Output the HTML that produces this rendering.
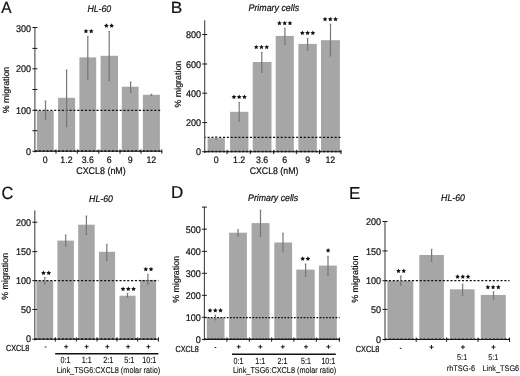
<!DOCTYPE html>
<html><head><meta charset="utf-8"><style>
html,body{margin:0;padding:0;background:#fff;}
svg{display:block;font-family:"Liberation Sans",sans-serif;filter:blur(0.35px);}
text{fill:#111;stroke:#111;stroke-width:0.2px;text-rendering:geometricPrecision;}
text.th{stroke-width:0.09px;}
</style></head><body>
<svg width="520" height="376" viewBox="0 0 520 376">
<rect width="520" height="376" fill="#fff"/>
<rect x="36.90" y="110.90" width="16.80" height="40.40" fill="#a6a6a6"/>
<rect x="58.10" y="97.80" width="17.00" height="53.50" fill="#a6a6a6"/>
<rect x="79.40" y="57.40" width="16.80" height="93.90" fill="#a6a6a6"/>
<rect x="100.60" y="55.80" width="17.40" height="95.50" fill="#a6a6a6"/>
<rect x="121.80" y="86.70" width="16.80" height="64.60" fill="#a6a6a6"/>
<rect x="142.90" y="94.80" width="17.00" height="56.50" fill="#a6a6a6"/>
<line x1="34.90" y1="110.30" x2="161.80" y2="110.30" stroke="#111" stroke-width="1.3" stroke-dasharray="2.1 1.75"/>
<line x1="34.90" y1="151.05" x2="161.80" y2="151.05" stroke="#111" stroke-width="1.4" stroke-dasharray="2.1 1.75"/>
<line x1="45.50" y1="101.00" x2="45.50" y2="119.50" stroke="#777777" stroke-width="1.2"/>
<line x1="44.60" y1="101.00" x2="46.40" y2="101.00" stroke="#777777" stroke-width="0.8"/>
<line x1="44.60" y1="119.50" x2="46.40" y2="119.50" stroke="#777777" stroke-width="0.8"/>
<line x1="66.60" y1="70.10" x2="66.60" y2="126.70" stroke="#777777" stroke-width="1.2"/>
<line x1="65.70" y1="70.10" x2="67.50" y2="70.10" stroke="#777777" stroke-width="0.8"/>
<line x1="65.70" y1="126.70" x2="67.50" y2="126.70" stroke="#777777" stroke-width="0.8"/>
<line x1="87.80" y1="36.40" x2="87.80" y2="79.20" stroke="#777777" stroke-width="1.2"/>
<line x1="86.90" y1="36.40" x2="88.70" y2="36.40" stroke="#777777" stroke-width="0.8"/>
<line x1="86.90" y1="79.20" x2="88.70" y2="79.20" stroke="#777777" stroke-width="0.8"/>
<line x1="109.20" y1="31.50" x2="109.20" y2="80.70" stroke="#777777" stroke-width="1.2"/>
<line x1="108.30" y1="31.50" x2="110.10" y2="31.50" stroke="#777777" stroke-width="0.8"/>
<line x1="108.30" y1="80.70" x2="110.10" y2="80.70" stroke="#777777" stroke-width="0.8"/>
<line x1="130.60" y1="82.00" x2="130.60" y2="92.40" stroke="#777777" stroke-width="1.2"/>
<line x1="129.70" y1="82.00" x2="131.50" y2="82.00" stroke="#777777" stroke-width="0.8"/>
<line x1="129.70" y1="92.40" x2="131.50" y2="92.40" stroke="#777777" stroke-width="0.8"/>
<line x1="151.40" y1="94.20" x2="151.40" y2="95.40" stroke="#777777" stroke-width="1.2"/>
<line x1="150.50" y1="94.20" x2="152.30" y2="94.20" stroke="#777777" stroke-width="0.8"/>
<line x1="150.50" y1="95.40" x2="152.30" y2="95.40" stroke="#777777" stroke-width="0.8"/>
<line x1="34.90" y1="27.50" x2="34.90" y2="152.50" stroke="#454545" stroke-width="1.1"/>
<line x1="34.90" y1="151.30" x2="162.30" y2="151.30" stroke="#1a1a1a" stroke-width="1.1"/>
<line x1="32.40" y1="27.50" x2="37.40" y2="27.50" stroke="#1a1a1a" stroke-width="1.0"/>
<line x1="32.40" y1="48.40" x2="37.40" y2="48.40" stroke="#1a1a1a" stroke-width="1.0"/>
<line x1="32.40" y1="68.80" x2="37.40" y2="68.80" stroke="#1a1a1a" stroke-width="1.0"/>
<line x1="32.40" y1="89.50" x2="37.40" y2="89.50" stroke="#1a1a1a" stroke-width="1.0"/>
<line x1="32.40" y1="110.30" x2="37.40" y2="110.30" stroke="#1a1a1a" stroke-width="1.0"/>
<line x1="32.40" y1="130.70" x2="37.40" y2="130.70" stroke="#1a1a1a" stroke-width="1.0"/>
<line x1="32.40" y1="151.30" x2="37.40" y2="151.30" stroke="#1a1a1a" stroke-width="1.0"/>
<line x1="56.00" y1="149.40" x2="56.00" y2="153.70" stroke="#1a1a1a" stroke-width="1.0"/>
<line x1="77.30" y1="149.40" x2="77.30" y2="153.70" stroke="#1a1a1a" stroke-width="1.0"/>
<line x1="98.80" y1="149.40" x2="98.80" y2="153.70" stroke="#1a1a1a" stroke-width="1.0"/>
<line x1="120.00" y1="149.40" x2="120.00" y2="153.70" stroke="#1a1a1a" stroke-width="1.0"/>
<line x1="141.00" y1="149.40" x2="141.00" y2="153.70" stroke="#1a1a1a" stroke-width="1.0"/>
<line x1="161.80" y1="149.40" x2="161.80" y2="153.70" stroke="#1a1a1a" stroke-width="1.0"/>
<polygon points="85.97,28.69 86.68,30.22 88.35,30.42 87.12,31.56 87.44,33.21 85.97,32.39 84.51,33.21 84.83,31.56 83.60,30.42 85.27,30.22" fill="#111"/>
<polygon points="91.22,28.69 91.93,30.22 93.60,30.42 92.37,31.56 92.69,33.21 91.22,32.39 89.76,33.21 90.08,31.56 88.85,30.42 90.52,30.22" fill="#111"/>
<polygon points="106.38,23.34 107.08,24.87 108.75,25.07 107.52,26.21 107.84,27.86 106.38,27.04 104.91,27.86 105.23,26.21 104.00,25.07 105.67,24.87" fill="#111"/>
<polygon points="111.62,23.34 112.33,24.87 114.00,25.07 112.77,26.21 113.09,27.86 111.62,27.04 110.16,27.86 110.48,26.21 109.25,25.07 110.92,24.87" fill="#111"/>
<rect x="207.60" y="138.20" width="17.20" height="13.50" fill="#a6a6a6"/>
<rect x="230.10" y="111.80" width="18.30" height="39.90" fill="#a6a6a6"/>
<rect x="252.70" y="62.00" width="18.80" height="89.70" fill="#a6a6a6"/>
<rect x="275.70" y="35.90" width="18.10" height="115.80" fill="#a6a6a6"/>
<rect x="298.40" y="43.90" width="18.40" height="107.80" fill="#a6a6a6"/>
<rect x="321.00" y="40.20" width="18.90" height="111.50" fill="#a6a6a6"/>
<line x1="204.70" y1="137.30" x2="341.00" y2="137.30" stroke="#111" stroke-width="1.3" stroke-dasharray="2.1 1.75" stroke-dashoffset="1.0"/>
<line x1="204.70" y1="151.45" x2="341.00" y2="151.45" stroke="#111" stroke-width="1.4" stroke-dasharray="2.1 1.75" stroke-dashoffset="1.0"/>
<line x1="216.20" y1="136.50" x2="216.20" y2="139.50" stroke="#777777" stroke-width="1.2"/>
<line x1="215.30" y1="136.50" x2="217.10" y2="136.50" stroke="#777777" stroke-width="0.8"/>
<line x1="215.30" y1="139.50" x2="217.10" y2="139.50" stroke="#777777" stroke-width="0.8"/>
<line x1="239.20" y1="102.30" x2="239.20" y2="121.20" stroke="#777777" stroke-width="1.2"/>
<line x1="238.30" y1="102.30" x2="240.10" y2="102.30" stroke="#777777" stroke-width="0.8"/>
<line x1="238.30" y1="121.20" x2="240.10" y2="121.20" stroke="#777777" stroke-width="0.8"/>
<line x1="261.80" y1="52.40" x2="261.80" y2="72.50" stroke="#777777" stroke-width="1.2"/>
<line x1="260.90" y1="52.40" x2="262.70" y2="52.40" stroke="#777777" stroke-width="0.8"/>
<line x1="260.90" y1="72.50" x2="262.70" y2="72.50" stroke="#777777" stroke-width="0.8"/>
<line x1="284.90" y1="28.20" x2="284.90" y2="44.40" stroke="#777777" stroke-width="1.2"/>
<line x1="284.00" y1="28.20" x2="285.80" y2="28.20" stroke="#777777" stroke-width="0.8"/>
<line x1="284.00" y1="44.40" x2="285.80" y2="44.40" stroke="#777777" stroke-width="0.8"/>
<line x1="307.60" y1="38.40" x2="307.60" y2="50.20" stroke="#777777" stroke-width="1.2"/>
<line x1="306.70" y1="38.40" x2="308.50" y2="38.40" stroke="#777777" stroke-width="0.8"/>
<line x1="306.70" y1="50.20" x2="308.50" y2="50.20" stroke="#777777" stroke-width="0.8"/>
<line x1="330.50" y1="24.20" x2="330.50" y2="56.10" stroke="#777777" stroke-width="1.2"/>
<line x1="329.60" y1="24.20" x2="331.40" y2="24.20" stroke="#777777" stroke-width="0.8"/>
<line x1="329.60" y1="56.10" x2="331.40" y2="56.10" stroke="#777777" stroke-width="0.8"/>
<line x1="204.70" y1="20.30" x2="204.70" y2="152.90" stroke="#454545" stroke-width="1.1"/>
<line x1="204.70" y1="151.70" x2="341.50" y2="151.70" stroke="#1a1a1a" stroke-width="1.1"/>
<line x1="202.20" y1="34.50" x2="207.20" y2="34.50" stroke="#1a1a1a" stroke-width="1.0"/>
<line x1="202.20" y1="64.00" x2="207.20" y2="64.00" stroke="#1a1a1a" stroke-width="1.0"/>
<line x1="202.20" y1="93.20" x2="207.20" y2="93.20" stroke="#1a1a1a" stroke-width="1.0"/>
<line x1="202.20" y1="122.60" x2="207.20" y2="122.60" stroke="#1a1a1a" stroke-width="1.0"/>
<line x1="202.20" y1="151.70" x2="207.20" y2="151.70" stroke="#1a1a1a" stroke-width="1.0"/>
<line x1="227.00" y1="149.80" x2="227.00" y2="154.10" stroke="#1a1a1a" stroke-width="1.0"/>
<line x1="250.30" y1="149.80" x2="250.30" y2="154.10" stroke="#1a1a1a" stroke-width="1.0"/>
<line x1="273.70" y1="149.80" x2="273.70" y2="154.10" stroke="#1a1a1a" stroke-width="1.0"/>
<line x1="296.30" y1="149.80" x2="296.30" y2="154.10" stroke="#1a1a1a" stroke-width="1.0"/>
<line x1="319.50" y1="149.80" x2="319.50" y2="154.10" stroke="#1a1a1a" stroke-width="1.0"/>
<line x1="341.00" y1="149.80" x2="341.00" y2="154.10" stroke="#1a1a1a" stroke-width="1.0"/>
<polygon points="233.95,94.54 234.66,96.07 236.33,96.27 235.09,97.41 235.42,99.06 233.95,98.24 232.48,99.06 232.81,97.41 231.57,96.27 233.24,96.07" fill="#111"/>
<polygon points="239.20,94.54 239.91,96.07 241.58,96.27 240.34,97.41 240.67,99.06 239.20,98.24 237.73,99.06 238.06,97.41 236.82,96.27 238.49,96.07" fill="#111"/>
<polygon points="244.45,94.54 245.16,96.07 246.83,96.27 245.59,97.41 245.92,99.06 244.45,98.24 242.98,99.06 243.31,97.41 242.07,96.27 243.74,96.07" fill="#111"/>
<polygon points="256.25,44.64 256.96,46.17 258.63,46.37 257.39,47.51 257.72,49.16 256.25,48.34 254.78,49.16 255.11,47.51 253.87,46.37 255.54,46.17" fill="#111"/>
<polygon points="261.50,44.64 262.21,46.17 263.88,46.37 262.64,47.51 262.97,49.16 261.50,48.34 260.03,49.16 260.36,47.51 259.12,46.37 260.79,46.17" fill="#111"/>
<polygon points="266.75,44.64 267.46,46.17 269.13,46.37 267.89,47.51 268.22,49.16 266.75,48.34 265.28,49.16 265.61,47.51 264.37,46.37 266.04,46.17" fill="#111"/>
<polygon points="279.45,20.74 280.16,22.27 281.83,22.47 280.59,23.61 280.92,25.26 279.45,24.44 277.98,25.26 278.31,23.61 277.07,22.47 278.74,22.27" fill="#111"/>
<polygon points="284.70,20.74 285.41,22.27 287.08,22.47 285.84,23.61 286.17,25.26 284.70,24.44 283.23,25.26 283.56,23.61 282.32,22.47 283.99,22.27" fill="#111"/>
<polygon points="289.95,20.74 290.66,22.27 292.33,22.47 291.09,23.61 291.42,25.26 289.95,24.44 288.48,25.26 288.81,23.61 287.57,22.47 289.24,22.27" fill="#111"/>
<polygon points="302.35,30.54 303.06,32.07 304.73,32.27 303.49,33.41 303.82,35.06 302.35,34.24 300.88,35.06 301.21,33.41 299.97,32.27 301.64,32.07" fill="#111"/>
<polygon points="307.60,30.54 308.31,32.07 309.98,32.27 308.74,33.41 309.07,35.06 307.60,34.24 306.13,35.06 306.46,33.41 305.22,32.27 306.89,32.07" fill="#111"/>
<polygon points="312.85,30.54 313.56,32.07 315.23,32.27 313.99,33.41 314.32,35.06 312.85,34.24 311.38,35.06 311.71,33.41 310.47,32.27 312.14,32.07" fill="#111"/>
<polygon points="325.05,16.84 325.76,18.37 327.43,18.57 326.19,19.71 326.52,21.36 325.05,20.54 323.58,21.36 323.91,19.71 322.67,18.57 324.34,18.37" fill="#111"/>
<polygon points="330.30,16.84 331.01,18.37 332.68,18.57 331.44,19.71 331.77,21.36 330.30,20.54 328.83,21.36 329.16,19.71 327.92,18.57 329.59,18.37" fill="#111"/>
<polygon points="335.55,16.84 336.26,18.37 337.93,18.57 336.69,19.71 337.02,21.36 335.55,20.54 334.08,21.36 334.41,19.71 333.17,18.57 334.84,18.37" fill="#111"/>
<rect x="36.40" y="280.60" width="16.80" height="58.60" fill="#a6a6a6"/>
<rect x="57.40" y="240.60" width="16.50" height="98.60" fill="#a6a6a6"/>
<rect x="78.20" y="224.70" width="16.50" height="114.50" fill="#a6a6a6"/>
<rect x="98.95" y="251.80" width="16.15" height="87.40" fill="#a6a6a6"/>
<rect x="119.50" y="295.70" width="16.10" height="43.50" fill="#a6a6a6"/>
<rect x="140.00" y="279.90" width="16.10" height="59.30" fill="#a6a6a6"/>
<line x1="34.80" y1="280.60" x2="158.40" y2="280.60" stroke="#111" stroke-width="1.3" stroke-dasharray="2.1 1.75"/>
<line x1="34.80" y1="338.95" x2="158.40" y2="338.95" stroke="#111" stroke-width="1.4" stroke-dasharray="2.1 1.75"/>
<line x1="44.80" y1="277.50" x2="44.80" y2="284.00" stroke="#777777" stroke-width="1.2"/>
<line x1="43.90" y1="277.50" x2="45.70" y2="277.50" stroke="#777777" stroke-width="0.8"/>
<line x1="43.90" y1="284.00" x2="45.70" y2="284.00" stroke="#777777" stroke-width="0.8"/>
<line x1="65.70" y1="235.10" x2="65.70" y2="246.00" stroke="#777777" stroke-width="1.2"/>
<line x1="64.80" y1="235.10" x2="66.60" y2="235.10" stroke="#777777" stroke-width="0.8"/>
<line x1="64.80" y1="246.00" x2="66.60" y2="246.00" stroke="#777777" stroke-width="0.8"/>
<line x1="86.40" y1="216.00" x2="86.40" y2="234.50" stroke="#777777" stroke-width="1.2"/>
<line x1="85.50" y1="216.00" x2="87.30" y2="216.00" stroke="#777777" stroke-width="0.8"/>
<line x1="85.50" y1="234.50" x2="87.30" y2="234.50" stroke="#777777" stroke-width="0.8"/>
<line x1="106.80" y1="244.40" x2="106.80" y2="260.30" stroke="#777777" stroke-width="1.2"/>
<line x1="105.90" y1="244.40" x2="107.70" y2="244.40" stroke="#777777" stroke-width="0.8"/>
<line x1="105.90" y1="260.30" x2="107.70" y2="260.30" stroke="#777777" stroke-width="0.8"/>
<line x1="127.50" y1="293.30" x2="127.50" y2="297.50" stroke="#777777" stroke-width="1.2"/>
<line x1="126.60" y1="293.30" x2="128.40" y2="293.30" stroke="#777777" stroke-width="0.8"/>
<line x1="126.60" y1="297.50" x2="128.40" y2="297.50" stroke="#777777" stroke-width="0.8"/>
<line x1="147.90" y1="274.40" x2="147.90" y2="284.20" stroke="#777777" stroke-width="1.2"/>
<line x1="147.00" y1="274.40" x2="148.80" y2="274.40" stroke="#777777" stroke-width="0.8"/>
<line x1="147.00" y1="284.20" x2="148.80" y2="284.20" stroke="#777777" stroke-width="0.8"/>
<line x1="34.80" y1="210.60" x2="34.80" y2="340.40" stroke="#454545" stroke-width="1.1"/>
<line x1="34.80" y1="339.20" x2="158.90" y2="339.20" stroke="#1a1a1a" stroke-width="1.1"/>
<line x1="32.30" y1="222.20" x2="37.30" y2="222.20" stroke="#1a1a1a" stroke-width="1.0"/>
<line x1="32.30" y1="251.60" x2="37.30" y2="251.60" stroke="#1a1a1a" stroke-width="1.0"/>
<line x1="32.30" y1="280.60" x2="37.30" y2="280.60" stroke="#1a1a1a" stroke-width="1.0"/>
<line x1="32.30" y1="309.50" x2="37.30" y2="309.50" stroke="#1a1a1a" stroke-width="1.0"/>
<line x1="32.30" y1="339.20" x2="37.30" y2="339.20" stroke="#1a1a1a" stroke-width="1.0"/>
<line x1="55.30" y1="337.30" x2="55.30" y2="341.60" stroke="#1a1a1a" stroke-width="1.0"/>
<line x1="76.30" y1="337.30" x2="76.30" y2="341.60" stroke="#1a1a1a" stroke-width="1.0"/>
<line x1="97.00" y1="337.30" x2="97.00" y2="341.60" stroke="#1a1a1a" stroke-width="1.0"/>
<line x1="117.00" y1="337.30" x2="117.00" y2="341.60" stroke="#1a1a1a" stroke-width="1.0"/>
<line x1="137.70" y1="337.30" x2="137.70" y2="341.60" stroke="#1a1a1a" stroke-width="1.0"/>
<line x1="158.40" y1="337.30" x2="158.40" y2="341.60" stroke="#1a1a1a" stroke-width="1.0"/>
<polygon points="43.48,270.54 44.18,272.07 45.85,272.27 44.62,273.41 44.94,275.06 43.48,274.24 42.01,275.06 42.33,273.41 41.10,272.27 42.77,272.07" fill="#111"/>
<polygon points="48.73,270.54 49.43,272.07 51.10,272.27 49.87,273.41 50.19,275.06 48.73,274.24 47.26,275.06 47.58,273.41 46.35,272.27 48.02,272.07" fill="#111"/>
<polygon points="123.05,286.54 123.76,288.07 125.43,288.27 124.19,289.41 124.52,291.06 123.05,290.24 121.58,291.06 121.91,289.41 120.67,288.27 122.34,288.07" fill="#111"/>
<polygon points="128.30,286.54 129.01,288.07 130.68,288.27 129.44,289.41 129.77,291.06 128.30,290.24 126.83,291.06 127.16,289.41 125.92,288.27 127.59,288.07" fill="#111"/>
<polygon points="133.55,286.54 134.26,288.07 135.93,288.27 134.69,289.41 135.02,291.06 133.55,290.24 132.08,291.06 132.41,289.41 131.17,288.27 132.84,288.07" fill="#111"/>
<polygon points="145.78,266.84 146.48,268.37 148.15,268.57 146.92,269.71 147.24,271.36 145.78,270.54 144.31,271.36 144.63,269.71 143.40,268.57 145.07,268.37" fill="#111"/>
<polygon points="151.03,266.84 151.73,268.37 153.40,268.57 152.17,269.71 152.49,271.36 151.03,270.54 149.56,271.36 149.88,269.71 148.65,268.57 150.32,268.37" fill="#111"/>
<rect x="206.80" y="317.50" width="17.70" height="21.90" fill="#a6a6a6"/>
<rect x="229.10" y="232.70" width="17.80" height="106.70" fill="#a6a6a6"/>
<rect x="251.60" y="223.10" width="17.90" height="116.30" fill="#a6a6a6"/>
<rect x="274.30" y="242.50" width="17.80" height="96.90" fill="#a6a6a6"/>
<rect x="296.30" y="269.60" width="18.40" height="69.80" fill="#a6a6a6"/>
<rect x="318.90" y="265.60" width="17.90" height="73.80" fill="#a6a6a6"/>
<line x1="204.40" y1="317.60" x2="339.60" y2="317.60" stroke="#111" stroke-width="1.3" stroke-dasharray="1.75 1.45"/>
<line x1="204.40" y1="339.15" x2="339.60" y2="339.15" stroke="#111" stroke-width="1.4" stroke-dasharray="1.75 1.45"/>
<line x1="215.40" y1="315.00" x2="215.40" y2="320.00" stroke="#777777" stroke-width="1.2"/>
<line x1="214.50" y1="315.00" x2="216.30" y2="315.00" stroke="#777777" stroke-width="0.8"/>
<line x1="214.50" y1="320.00" x2="216.30" y2="320.00" stroke="#777777" stroke-width="0.8"/>
<line x1="238.10" y1="229.70" x2="238.10" y2="235.90" stroke="#777777" stroke-width="1.2"/>
<line x1="237.20" y1="229.70" x2="239.00" y2="229.70" stroke="#777777" stroke-width="0.8"/>
<line x1="237.20" y1="235.90" x2="239.00" y2="235.90" stroke="#777777" stroke-width="0.8"/>
<line x1="260.50" y1="210.30" x2="260.50" y2="236.60" stroke="#777777" stroke-width="1.2"/>
<line x1="259.60" y1="210.30" x2="261.40" y2="210.30" stroke="#777777" stroke-width="0.8"/>
<line x1="259.60" y1="236.60" x2="261.40" y2="236.60" stroke="#777777" stroke-width="0.8"/>
<line x1="283.00" y1="233.20" x2="283.00" y2="251.80" stroke="#777777" stroke-width="1.2"/>
<line x1="282.10" y1="233.20" x2="283.90" y2="233.20" stroke="#777777" stroke-width="0.8"/>
<line x1="282.10" y1="251.80" x2="283.90" y2="251.80" stroke="#777777" stroke-width="0.8"/>
<line x1="305.60" y1="264.00" x2="305.60" y2="276.30" stroke="#777777" stroke-width="1.2"/>
<line x1="304.70" y1="264.00" x2="306.50" y2="264.00" stroke="#777777" stroke-width="0.8"/>
<line x1="304.70" y1="276.30" x2="306.50" y2="276.30" stroke="#777777" stroke-width="0.8"/>
<line x1="328.00" y1="256.30" x2="328.00" y2="275.30" stroke="#777777" stroke-width="1.2"/>
<line x1="327.10" y1="256.30" x2="328.90" y2="256.30" stroke="#777777" stroke-width="0.8"/>
<line x1="327.10" y1="275.30" x2="328.90" y2="275.30" stroke="#777777" stroke-width="0.8"/>
<line x1="204.40" y1="207.10" x2="204.40" y2="340.60" stroke="#454545" stroke-width="1.1"/>
<line x1="204.40" y1="339.40" x2="340.10" y2="339.40" stroke="#1a1a1a" stroke-width="1.1"/>
<line x1="201.90" y1="207.10" x2="206.90" y2="207.10" stroke="#1a1a1a" stroke-width="1.0"/>
<line x1="201.90" y1="229.15" x2="206.90" y2="229.15" stroke="#1a1a1a" stroke-width="1.0"/>
<line x1="201.90" y1="251.35" x2="206.90" y2="251.35" stroke="#1a1a1a" stroke-width="1.0"/>
<line x1="201.90" y1="273.30" x2="206.90" y2="273.30" stroke="#1a1a1a" stroke-width="1.0"/>
<line x1="201.90" y1="295.30" x2="206.90" y2="295.30" stroke="#1a1a1a" stroke-width="1.0"/>
<line x1="201.90" y1="317.30" x2="206.90" y2="317.30" stroke="#1a1a1a" stroke-width="1.0"/>
<line x1="201.90" y1="339.40" x2="206.90" y2="339.40" stroke="#1a1a1a" stroke-width="1.0"/>
<line x1="226.90" y1="337.50" x2="226.90" y2="341.80" stroke="#1a1a1a" stroke-width="1.0"/>
<line x1="249.30" y1="337.50" x2="249.30" y2="341.80" stroke="#1a1a1a" stroke-width="1.0"/>
<line x1="271.60" y1="337.50" x2="271.60" y2="341.80" stroke="#1a1a1a" stroke-width="1.0"/>
<line x1="293.80" y1="337.50" x2="293.80" y2="341.80" stroke="#1a1a1a" stroke-width="1.0"/>
<line x1="316.30" y1="337.50" x2="316.30" y2="341.80" stroke="#1a1a1a" stroke-width="1.0"/>
<line x1="339.30" y1="337.50" x2="339.30" y2="341.80" stroke="#1a1a1a" stroke-width="1.0"/>
<polygon points="210.05,308.04 210.76,309.57 212.43,309.77 211.19,310.91 211.52,312.56 210.05,311.74 208.58,312.56 208.91,310.91 207.67,309.77 209.34,309.57" fill="#111"/>
<polygon points="215.30,308.04 216.01,309.57 217.68,309.77 216.44,310.91 216.77,312.56 215.30,311.74 213.83,312.56 214.16,310.91 212.92,309.77 214.59,309.57" fill="#111"/>
<polygon points="220.55,308.04 221.26,309.57 222.93,309.77 221.69,310.91 222.02,312.56 220.55,311.74 219.08,312.56 219.41,310.91 218.17,309.77 219.84,309.57" fill="#111"/>
<polygon points="302.68,256.34 303.38,257.87 305.05,258.07 303.82,259.21 304.14,260.86 302.68,260.04 301.21,260.86 301.53,259.21 300.30,258.07 301.97,257.87" fill="#111"/>
<polygon points="307.93,256.34 308.63,257.87 310.30,258.07 309.07,259.21 309.39,260.86 307.93,260.04 306.46,260.86 306.78,259.21 305.55,258.07 307.22,257.87" fill="#111"/>
<polygon points="328.10,247.94 328.81,249.47 330.48,249.67 329.24,250.81 329.57,252.46 328.10,251.64 326.63,252.46 326.96,250.81 325.72,249.67 327.39,249.47" fill="#111"/>
<rect x="387.40" y="280.80" width="25.90" height="58.70" fill="#a6a6a6"/>
<rect x="419.30" y="255.00" width="24.60" height="84.50" fill="#a6a6a6"/>
<rect x="449.90" y="289.30" width="24.70" height="50.20" fill="#a6a6a6"/>
<rect x="480.80" y="294.90" width="25.00" height="44.60" fill="#a6a6a6"/>
<line x1="385.00" y1="280.70" x2="509.50" y2="280.70" stroke="#111" stroke-width="1.3" stroke-dasharray="2.1 1.75"/>
<line x1="385.00" y1="339.25" x2="509.50" y2="339.25" stroke="#111" stroke-width="1.4" stroke-dasharray="2.1 1.75"/>
<line x1="400.80" y1="276.00" x2="400.80" y2="285.30" stroke="#777777" stroke-width="1.2"/>
<line x1="399.90" y1="276.00" x2="401.70" y2="276.00" stroke="#777777" stroke-width="0.8"/>
<line x1="399.90" y1="285.30" x2="401.70" y2="285.30" stroke="#777777" stroke-width="0.8"/>
<line x1="431.60" y1="249.30" x2="431.60" y2="261.30" stroke="#777777" stroke-width="1.2"/>
<line x1="430.70" y1="249.30" x2="432.50" y2="249.30" stroke="#777777" stroke-width="0.8"/>
<line x1="430.70" y1="261.30" x2="432.50" y2="261.30" stroke="#777777" stroke-width="0.8"/>
<line x1="462.60" y1="284.20" x2="462.60" y2="295.60" stroke="#777777" stroke-width="1.2"/>
<line x1="461.70" y1="284.20" x2="463.50" y2="284.20" stroke="#777777" stroke-width="0.8"/>
<line x1="461.70" y1="295.60" x2="463.50" y2="295.60" stroke="#777777" stroke-width="0.8"/>
<line x1="493.50" y1="291.80" x2="493.50" y2="299.20" stroke="#777777" stroke-width="1.2"/>
<line x1="492.60" y1="291.80" x2="494.40" y2="291.80" stroke="#777777" stroke-width="0.8"/>
<line x1="492.60" y1="299.20" x2="494.40" y2="299.20" stroke="#777777" stroke-width="0.8"/>
<line x1="385.00" y1="221.50" x2="385.00" y2="340.70" stroke="#454545" stroke-width="1.1"/>
<line x1="385.00" y1="339.50" x2="510.00" y2="339.50" stroke="#1a1a1a" stroke-width="1.1"/>
<line x1="382.50" y1="221.50" x2="387.50" y2="221.50" stroke="#1a1a1a" stroke-width="1.0"/>
<line x1="382.50" y1="250.90" x2="387.50" y2="250.90" stroke="#1a1a1a" stroke-width="1.0"/>
<line x1="382.50" y1="280.70" x2="387.50" y2="280.70" stroke="#1a1a1a" stroke-width="1.0"/>
<line x1="382.50" y1="309.40" x2="387.50" y2="309.40" stroke="#1a1a1a" stroke-width="1.0"/>
<line x1="382.50" y1="339.50" x2="387.50" y2="339.50" stroke="#1a1a1a" stroke-width="1.0"/>
<line x1="416.20" y1="337.60" x2="416.20" y2="341.90" stroke="#1a1a1a" stroke-width="1.0"/>
<line x1="446.60" y1="337.60" x2="446.60" y2="341.90" stroke="#1a1a1a" stroke-width="1.0"/>
<line x1="478.00" y1="337.60" x2="478.00" y2="341.90" stroke="#1a1a1a" stroke-width="1.0"/>
<line x1="509.50" y1="337.60" x2="509.50" y2="341.90" stroke="#1a1a1a" stroke-width="1.0"/>
<polygon points="398.48,268.44 399.18,269.97 400.85,270.17 399.62,271.31 399.94,272.96 398.48,272.14 397.01,272.96 397.33,271.31 396.10,270.17 397.77,269.97" fill="#111"/>
<polygon points="403.73,268.44 404.43,269.97 406.10,270.17 404.87,271.31 405.19,272.96 403.73,272.14 402.26,272.96 402.58,271.31 401.35,270.17 403.02,269.97" fill="#111"/>
<polygon points="457.55,274.24 458.26,275.77 459.93,275.97 458.69,277.11 459.02,278.76 457.55,277.94 456.08,278.76 456.41,277.11 455.17,275.97 456.84,275.77" fill="#111"/>
<polygon points="462.80,274.24 463.51,275.77 465.18,275.97 463.94,277.11 464.27,278.76 462.80,277.94 461.33,278.76 461.66,277.11 460.42,275.97 462.09,275.77" fill="#111"/>
<polygon points="468.05,274.24 468.76,275.77 470.43,275.97 469.19,277.11 469.52,278.76 468.05,277.94 466.58,278.76 466.91,277.11 465.67,275.97 467.34,275.77" fill="#111"/>
<polygon points="487.85,284.74 488.56,286.27 490.23,286.47 488.99,287.61 489.32,289.26 487.85,288.44 486.38,289.26 486.71,287.61 485.47,286.47 487.14,286.27" fill="#111"/>
<polygon points="493.10,284.74 493.81,286.27 495.48,286.47 494.24,287.61 494.57,289.26 493.10,288.44 491.63,289.26 491.96,287.61 490.72,286.47 492.39,286.27" fill="#111"/>
<polygon points="498.35,284.74 499.06,286.27 500.73,286.47 499.49,287.61 499.82,289.26 498.35,288.44 496.88,289.26 497.21,287.61 495.97,286.47 497.64,286.27" fill="#111"/>
<text transform="translate(1.32,12.50) scale(0.954,1.000)" font-size="16.20">A</text>
<text transform="translate(170.87,12.50) scale(1.066,1.000)" font-size="16.20">B</text>
<text transform="translate(1.38,198.82) scale(0.931,1.000)" font-size="17.67">C</text>
<text transform="translate(170.99,198.30) scale(0.993,1.000)" font-size="17.16">D</text>
<text transform="translate(349.00,198.80) scale(0.980,1.000)" font-size="17.31">E</text>
<text transform="translate(87.39,11.70) scale(1.000,1.090)" font-size="8.75" font-style="italic">HL-60</text>
<text transform="translate(248.48,11.40) scale(1.000,1.090)" font-size="8.85" font-style="italic">Primary cells</text>
<text transform="translate(89.09,201.60) scale(1.000,1.090)" font-size="8.75" font-style="italic">HL-60</text>
<text transform="translate(248.09,201.05) scale(1.000,1.090)" font-size="8.76" font-style="italic">Primary cells</text>
<text transform="translate(441.09,201.20) scale(1.000,1.090)" font-size="8.75" font-style="italic">HL-60</text>
<text transform="translate(8.50,113.26) rotate(-90)" font-size="8.82">% migration</text>
<text transform="translate(180.50,107.56) rotate(-90)" font-size="8.88">% migration</text>
<text transform="translate(7.80,299.76) rotate(-90)" font-size="8.90">% migration</text>
<text transform="translate(178.60,302.76) rotate(-90)" font-size="8.88">% migration</text>
<text transform="translate(357.80,302.86) rotate(-90)" font-size="8.96">% migration</text>
<text transform="translate(15.90,31.75) scale(1.000,1.077)" font-size="9.05">300</text>
<text transform="translate(15.90,72.25) scale(1.000,1.077)" font-size="9.05">200</text>
<text transform="translate(15.90,114.05) scale(1.000,1.077)" font-size="9.05">100</text>
<text transform="translate(25.97,155.05) scale(1.000,1.077)" font-size="9.05">0</text>
<text transform="translate(185.90,38.25) scale(1.000,1.077)" font-size="9.05">800</text>
<text transform="translate(185.90,67.75) scale(1.000,1.077)" font-size="9.05">600</text>
<text transform="translate(185.90,96.95) scale(1.000,1.077)" font-size="9.05">400</text>
<text transform="translate(185.90,126.35) scale(1.000,1.077)" font-size="9.05">200</text>
<text transform="translate(195.97,155.45) scale(1.000,1.077)" font-size="9.05">0</text>
<text transform="translate(15.90,225.95) scale(1.000,1.077)" font-size="9.05">200</text>
<text transform="translate(15.90,255.35) scale(1.000,1.077)" font-size="9.05">150</text>
<text transform="translate(15.90,284.35) scale(1.000,1.077)" font-size="9.05">100</text>
<text transform="translate(20.94,313.25) scale(1.000,1.077)" font-size="9.05">50</text>
<text transform="translate(25.97,341.85) scale(1.000,1.077)" font-size="9.05">0</text>
<text transform="translate(185.70,232.90) scale(1.000,1.077)" font-size="9.05">500</text>
<text transform="translate(185.70,255.10) scale(1.000,1.077)" font-size="9.05">400</text>
<text transform="translate(185.70,277.05) scale(1.000,1.077)" font-size="9.05">300</text>
<text transform="translate(185.70,299.05) scale(1.000,1.077)" font-size="9.05">200</text>
<text transform="translate(185.70,321.05) scale(1.000,1.077)" font-size="9.05">100</text>
<text transform="translate(195.77,343.15) scale(1.000,1.077)" font-size="9.05">0</text>
<text transform="translate(365.90,225.25) scale(1.000,1.077)" font-size="9.05">200</text>
<text transform="translate(365.90,254.65) scale(1.000,1.077)" font-size="9.05">150</text>
<text transform="translate(365.90,284.45) scale(1.000,1.077)" font-size="9.05">100</text>
<text transform="translate(370.94,313.15) scale(1.000,1.077)" font-size="9.05">50</text>
<text transform="translate(375.97,343.25) scale(1.000,1.077)" font-size="9.05">0</text>
<text transform="translate(42.85,163.05) scale(1.000,1.070)" font-size="8.80">0</text>
<text transform="translate(60.37,163.05) scale(1.000,1.070)" font-size="8.80">1.2</text>
<text transform="translate(81.71,163.05) scale(1.000,1.070)" font-size="8.80">3.6</text>
<text transform="translate(106.83,163.05) scale(1.000,1.070)" font-size="8.80">6</text>
<text transform="translate(127.75,163.05) scale(1.000,1.070)" font-size="8.80">9</text>
<text transform="translate(146.41,163.05) scale(1.000,1.070)" font-size="8.80">12</text>
<text transform="translate(213.75,163.05) scale(1.000,1.070)" font-size="8.80">0</text>
<text transform="translate(233.02,163.05) scale(1.000,1.070)" font-size="8.80">1.2</text>
<text transform="translate(256.01,163.05) scale(1.000,1.070)" font-size="8.80">3.6</text>
<text transform="translate(282.27,163.05) scale(1.000,1.070)" font-size="8.80">6</text>
<text transform="translate(305.15,163.05) scale(1.000,1.070)" font-size="8.80">9</text>
<text transform="translate(325.46,163.05) scale(1.000,1.070)" font-size="8.80">12</text>
<text transform="translate(76.20,173.55) scale(1.000,1.090)" font-size="8.93">CXCL8 (nM)</text>
<text transform="translate(249.71,173.55) scale(1.000,1.090)" font-size="8.76">CXCL8 (nM)</text>
<text transform="translate(5.99,351.00) scale(0.996,1.210)" font-size="7.25">CXCL8</text>
<text transform="translate(175.49,351.60) scale(1.000,1.210)" font-size="7.25">CXCL8</text>
<text transform="translate(355.78,351.90) scale(1.009,1.210)" font-size="7.25">CXCL8</text>
<line x1="44.65" y1="347.00" x2="46.45" y2="347.00" stroke="#111" stroke-width="0.9"/>
<line x1="214.50" y1="347.50" x2="216.30" y2="347.50" stroke="#111" stroke-width="0.9"/>
<line x1="399.80" y1="348.30" x2="401.60" y2="348.30" stroke="#111" stroke-width="0.9"/>
<line x1="64.10" y1="346.70" x2="68.10" y2="346.70" stroke="#111" stroke-width="0.95"/>
<line x1="66.10" y1="344.70" x2="66.10" y2="348.70" stroke="#111" stroke-width="0.95"/>
<line x1="84.60" y1="346.70" x2="88.60" y2="346.70" stroke="#111" stroke-width="0.95"/>
<line x1="86.60" y1="344.70" x2="86.60" y2="348.70" stroke="#111" stroke-width="0.95"/>
<line x1="105.30" y1="346.70" x2="109.30" y2="346.70" stroke="#111" stroke-width="0.95"/>
<line x1="107.30" y1="344.70" x2="107.30" y2="348.70" stroke="#111" stroke-width="0.95"/>
<line x1="126.10" y1="346.70" x2="130.10" y2="346.70" stroke="#111" stroke-width="0.95"/>
<line x1="128.10" y1="344.70" x2="128.10" y2="348.70" stroke="#111" stroke-width="0.95"/>
<line x1="146.40" y1="346.70" x2="150.40" y2="346.70" stroke="#111" stroke-width="0.95"/>
<line x1="148.40" y1="344.70" x2="148.40" y2="348.70" stroke="#111" stroke-width="0.95"/>
<line x1="236.70" y1="346.80" x2="240.70" y2="346.80" stroke="#111" stroke-width="0.95"/>
<line x1="238.70" y1="344.80" x2="238.70" y2="348.80" stroke="#111" stroke-width="0.95"/>
<line x1="258.30" y1="346.80" x2="262.30" y2="346.80" stroke="#111" stroke-width="0.95"/>
<line x1="260.30" y1="344.80" x2="260.30" y2="348.80" stroke="#111" stroke-width="0.95"/>
<line x1="280.80" y1="346.80" x2="284.80" y2="346.80" stroke="#111" stroke-width="0.95"/>
<line x1="282.80" y1="344.80" x2="282.80" y2="348.80" stroke="#111" stroke-width="0.95"/>
<line x1="304.00" y1="346.80" x2="308.00" y2="346.80" stroke="#111" stroke-width="0.95"/>
<line x1="306.00" y1="344.80" x2="306.00" y2="348.80" stroke="#111" stroke-width="0.95"/>
<line x1="326.40" y1="346.80" x2="330.40" y2="346.80" stroke="#111" stroke-width="0.95"/>
<line x1="328.40" y1="344.80" x2="328.40" y2="348.80" stroke="#111" stroke-width="0.95"/>
<line x1="429.45" y1="347.10" x2="433.55" y2="347.10" stroke="#111" stroke-width="0.95"/>
<line x1="431.50" y1="345.05" x2="431.50" y2="349.15" stroke="#111" stroke-width="0.95"/>
<line x1="460.85" y1="347.10" x2="464.95" y2="347.10" stroke="#111" stroke-width="0.95"/>
<line x1="462.90" y1="345.05" x2="462.90" y2="349.15" stroke="#111" stroke-width="0.95"/>
<line x1="491.35" y1="347.10" x2="495.45" y2="347.10" stroke="#111" stroke-width="0.95"/>
<line x1="493.40" y1="345.05" x2="493.40" y2="349.15" stroke="#111" stroke-width="0.95"/>
<line x1="55.20" y1="353.65" x2="158.40" y2="353.65" stroke="#111" stroke-width="1.45"/>
<line x1="232.00" y1="354.20" x2="335.80" y2="354.20" stroke="#111" stroke-width="1.45"/>
<text transform="translate(60.57,362.50) scale(1.000,1.250)" font-size="7.20" class="th">0:1</text>
<text transform="translate(81.80,362.50) scale(1.000,1.250)" font-size="7.20" class="th">1:1</text>
<text transform="translate(103.19,362.50) scale(1.000,1.250)" font-size="7.20" class="th">2:1</text>
<text transform="translate(124.32,362.50) scale(1.000,1.250)" font-size="7.20" class="th">5:1</text>
<text transform="translate(142.25,362.50) scale(1.000,1.250)" font-size="7.20" class="th">10:1</text>
<text transform="translate(233.59,364.00) scale(1.000,1.250)" font-size="7.10" class="th">0:1</text>
<text transform="translate(255.27,364.00) scale(1.000,1.250)" font-size="7.10" class="th">1:1</text>
<text transform="translate(277.56,364.00) scale(1.000,1.250)" font-size="7.10" class="th">2:1</text>
<text transform="translate(301.04,364.00) scale(1.000,1.250)" font-size="7.10" class="th">5:1</text>
<text transform="translate(321.40,364.00) scale(1.000,1.250)" font-size="7.10" class="th">10:1</text>
<text transform="translate(56.65,372.60) scale(1.002,1.185)" font-size="7.30" class="th">Link_TSG6:CXCL8 (molar ratio)</text>
<text transform="translate(232.95,372.80) scale(0.999,1.185)" font-size="7.30" class="th">Link_TSG6:CXCL8 (molar ratio)</text>
<text transform="translate(457.05,359.70) scale(1.000,1.130)" font-size="7.30" class="th">5:1</text>
<text transform="translate(488.15,359.70) scale(1.000,1.130)" font-size="7.30" class="th">5:1</text>
<text transform="translate(446.75,370.50) scale(1.009,1.107)" font-size="7.35" class="th">rhTSG-6</text>
<text transform="translate(482.55,370.50) scale(0.996,1.107)" font-size="7.35" class="th">Link_TSG6</text>
</svg>
</body></html>
